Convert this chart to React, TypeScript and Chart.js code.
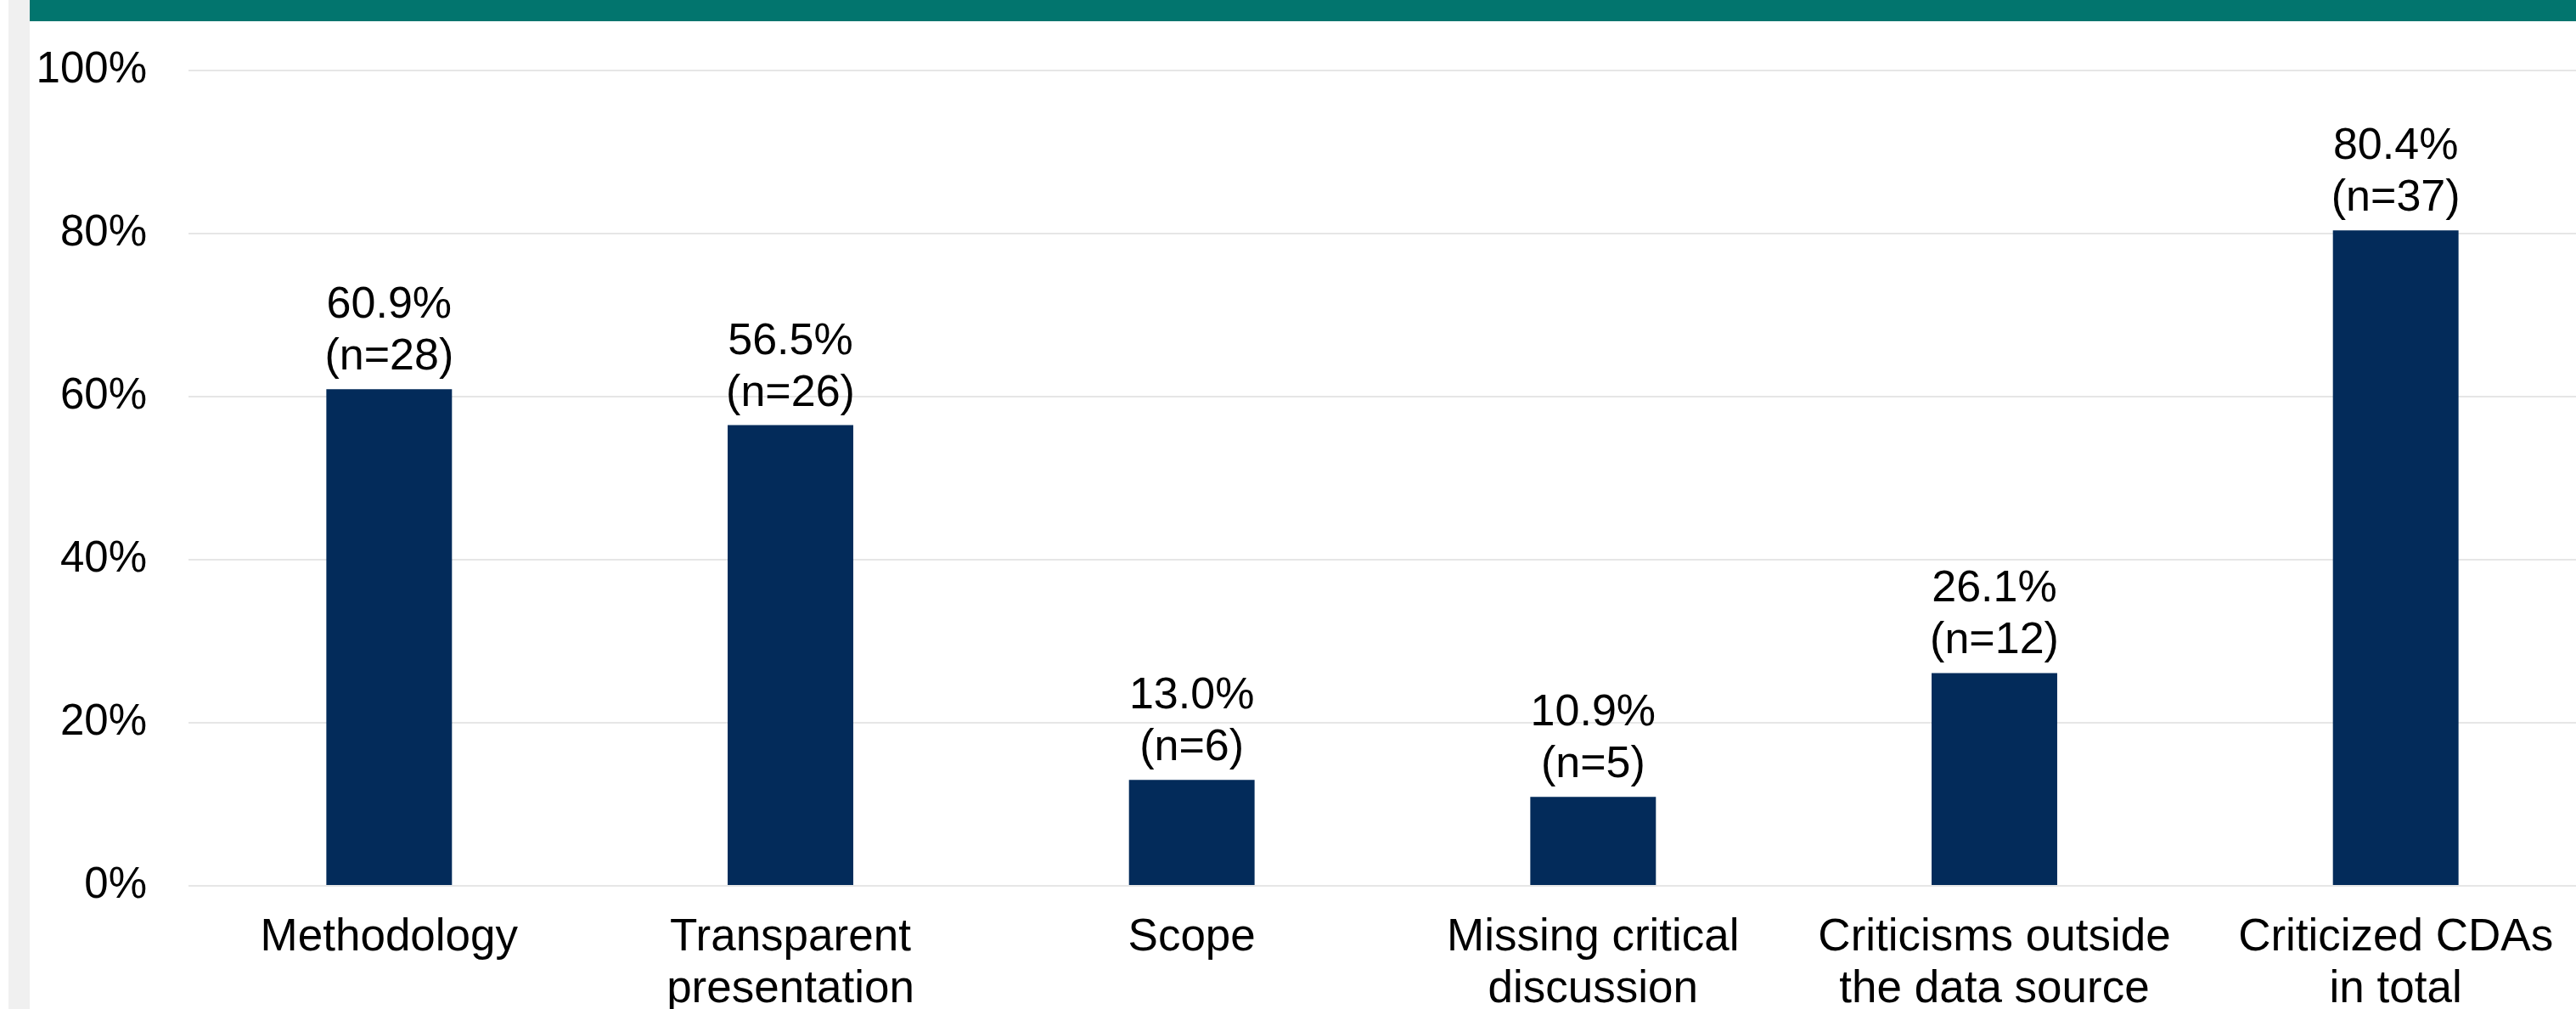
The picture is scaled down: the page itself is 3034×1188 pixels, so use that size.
import React, { useEffect, useRef } from "react";
import { Chart, registerables } from "chart.js";

Chart.register(...registerables);

const categories: string[][] = [
  ["Methodology"],
  ["Transparent", "presentation"],
  ["Scope"],
  ["Missing critical", "discussion"],
  ["Criticisms outside", "the data source"],
  ["Criticized CDAs", "in total"],
];
const percentValues: number[] = [60.9, 56.5, 13.0, 10.9, 26.1, 80.4];
const countValues: number[] = [28, 26, 6, 5, 12, 37];
const yTicks: number[] = [0, 20, 40, 60, 80, 100];

const FONT_FAMILY = '"Liberation Sans", Arial, sans-serif';
const Y_FONT_SIZE = 51;
const X_FONT_SIZE = 53;
const LABEL_FONT_SIZE = 52;
const BAR_COLOR = "#032B5A";
const HEADER_COLOR = "#02756E";

const barLabelPlugin = {
  id: "barLabels",
  afterDatasetsDraw(chart: any) {
    const ctx = chart.ctx;
    const meta = chart.getDatasetMeta(0);
    ctx.save();
    ctx.font = `${LABEL_FONT_SIZE}px ${FONT_FAMILY}`;
    ctx.fillStyle = "#000000";
    ctx.textAlign = "center";
    ctx.textBaseline = "alphabetic";
    meta.data.forEach((bar: any, i: number) => {
      const line1 = `${percentValues[i].toFixed(1)}%`;
      const line2 = `(n=${countValues[i]})`;
      ctx.fillText(line2, bar.x, bar.y - 23);
      ctx.fillText(line1, bar.x, bar.y - 23 - 61);
    });
    ctx.restore();
  },
};

export default function App() {
  const canvasRef = useRef<HTMLCanvasElement | null>(null);

  useEffect(() => {
    if (!canvasRef.current) return;
    const chart = new Chart(canvasRef.current, {
      type: "bar",
      data: {
        labels: categories,
        datasets: [
          {
            data: percentValues,
            backgroundColor: BAR_COLOR,
            borderWidth: 0,
            categoryPercentage: 1,
            barPercentage: 0.313,
          },
        ],
      },
      options: {
        animation: false,
        responsive: false,
        devicePixelRatio: 1,
        layout: { padding: { top: 83, right: 42, bottom: 0, left: 0 } },
        plugins: {
          legend: { display: false },
          tooltip: { enabled: false },
        },
        scales: {
          x: {
            grid: { display: false, drawTicks: false },
            border: { display: false },
            ticks: {
              color: "#000000",
              padding: 31,
              maxRotation: 0,
              autoSkip: false,
              font: { family: FONT_FAMILY, size: X_FONT_SIZE, lineHeight: 61 / 53 },
            },
            afterFit(scale: any) {
              scale.height = 145;
            },
          },
          y: {
            min: 0,
            max: 100,
            afterBuildTicks(scale: any) {
              scale.ticks = yTicks.map((v) => ({ value: v }));
            },
            grid: { color: "#E6E6E6", lineWidth: 2, drawTicks: false },
            border: { display: false },
            ticks: {
              color: "#000000",
              padding: 49,
              font: { family: FONT_FAMILY, size: Y_FONT_SIZE },
              callback: (v: any) => `${v}%`,
            },
            afterFit(scale: any) {
              scale.width = 222;
            },
          },
        },
      },
      plugins: [barLabelPlugin],
    });
    return () => chart.destroy();
  }, []);

  return (
    <div
      style={{
        position: "fixed",
        left: 0,
        top: 0,
        width: 3034,
        height: 1188,
        overflow: "hidden",
        background: "#FFFFFF",
      }}
    >
      <div
        style={{
          position: "absolute",
          left: 10,
          top: 0,
          width: 25,
          height: 1188,
          background: "#F0F0F0",
        }}
      />
      <div
        style={{
          position: "absolute",
          left: 35,
          top: 0,
          right: 0,
          height: 25,
          background: HEADER_COLOR,
        }}
      />
      <canvas
        ref={canvasRef}
        width={3100}
        height={1188}
        style={{ position: "absolute", left: 0, top: 0, width: 3100, height: 1188 }}
      />
    </div>
  );
}
